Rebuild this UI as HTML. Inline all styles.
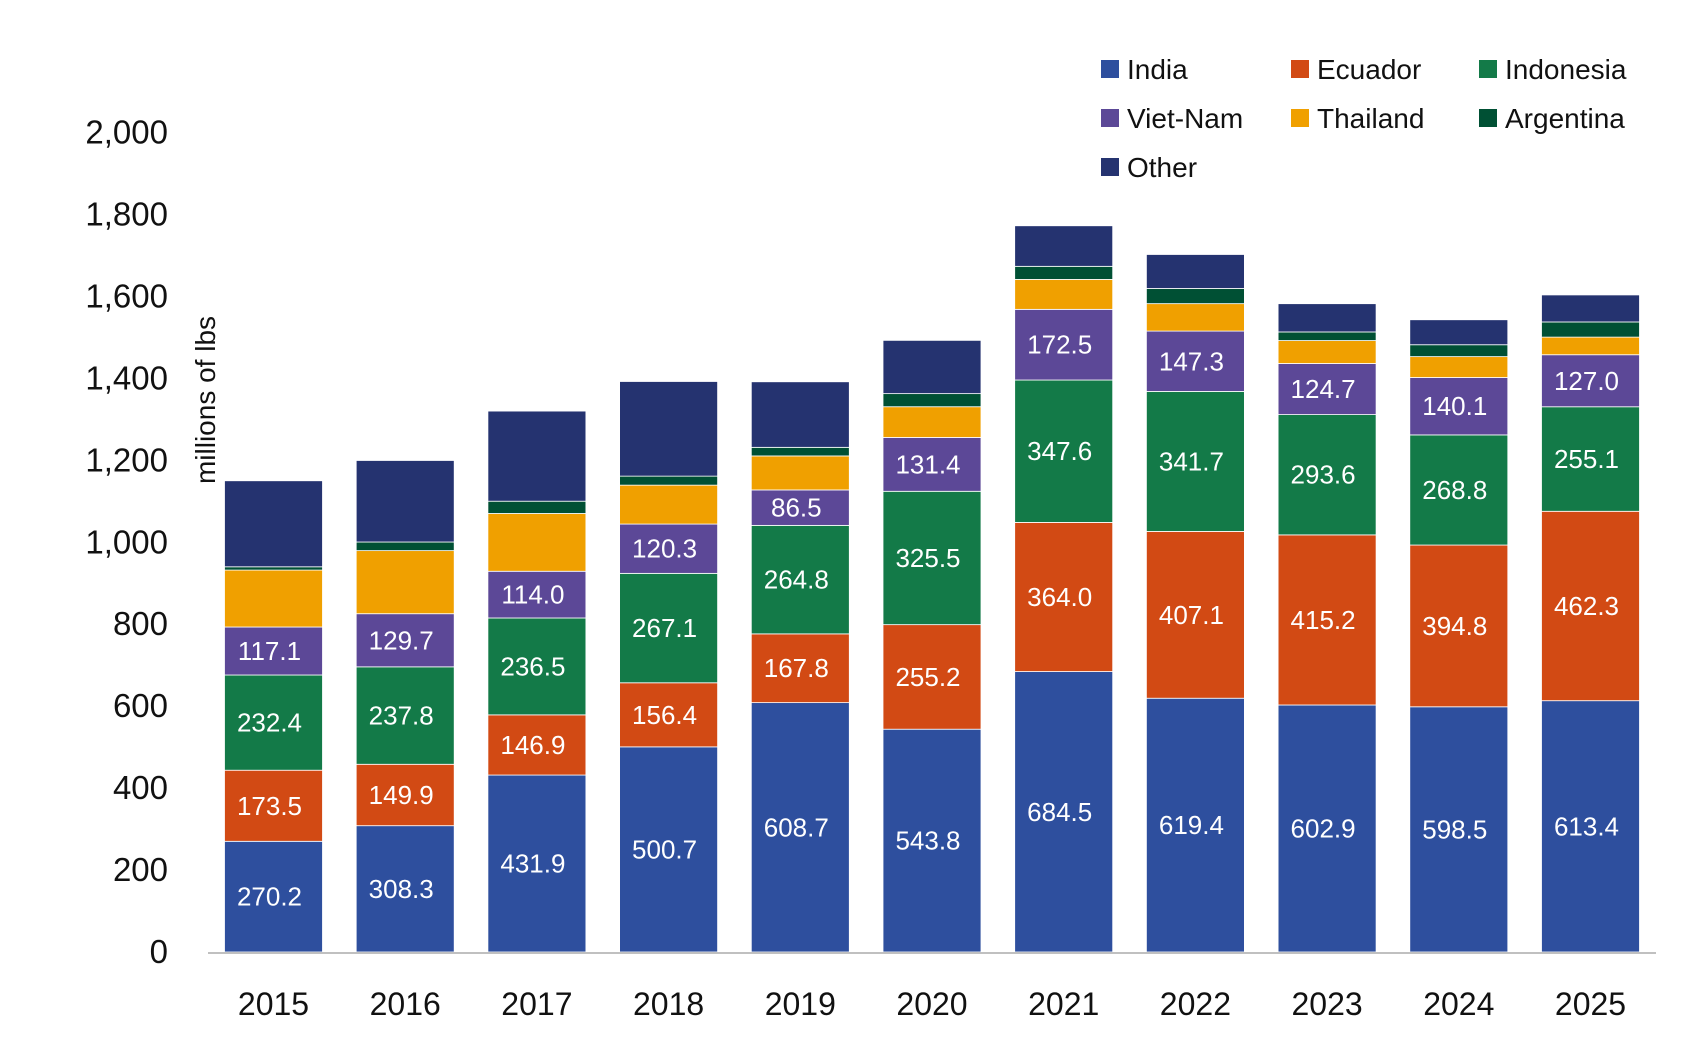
<!DOCTYPE html>
<html><head><meta charset="utf-8"><style>
html,body{margin:0;padding:0;background:#fff;}
svg{display:block;font-family:"Liberation Sans","DejaVu Sans",sans-serif;}
</style></head><body>
<svg id="chart" width="1704" height="1061" viewBox="0 0 1704 1061" xmlns="http://www.w3.org/2000/svg">
<g id="yaxis"></g>
<g id="bars"></g>
<g id="xaxis"></g>
<text transform="translate(215,400) rotate(-90)" text-anchor="middle" font-size="28" fill="#111">millions of lbs</text>
<g id="legend"></g>
</svg>
<script>
const years = ["2015","2016","2017","2018","2019","2020","2021","2022","2023","2024","2025"];
const seriesNames = ["India","Ecuador","Indonesia","Viet-Nam","Thailand","Argentina","Other"];
const india = [270.2,308.3,431.9,500.7,608.7,543.8,684.5,619.4,602.9,598.5,613.4];
const ecuador = [173.5,149.9,146.9,156.4,167.8,255.2,364.0,407.1,415.2,394.8,462.3];
const indonesia = [232.4,237.8,236.5,267.1,264.8,325.5,347.6,341.7,293.6,268.8,255.1];
const vietnam = [117.1,129.7,114.0,120.3,86.5,131.4,172.5,147.3,124.7,140.1,127.0];
const thailand = [139,154,141,95,83,75,73,67,56,51,43];
const argentina = [8,21,30,22,21,32,32,37,21,29,37];
const other = [210,199,220,231,160,130,99,83,69,61,66];
const yTicks = [0,200,400,600,800,1000,1200,1400,1600,1800,2000];
const yTickLabels = ["0","200","400","600","800","1,000","1,200","1,400","1,600","1,800","2,000"];
const labelled = [true,true,true,true,false,false,false];

const colors = ["#2e4f9e","#d24a14","#137a48","#5c4897","#f0a000","#005034","#253370"];
const series = [india,ecuador,indonesia,vietnam,thailand,argentina,other];
const NS = "http://www.w3.org/2000/svg";
const y0 = 952, pxPer = 0.4097;
function yScale(v){ return y0 - v*pxPer; }
const firstCenter = 273.5, pitch = 131.7, barW = 98;
function xScale(i){ return firstCenter + i*pitch; }
function mk(tag, attrs, parent){ const e=document.createElementNS(NS,tag); for(const k in attrs) e.setAttribute(k,attrs[k]); parent.appendChild(e); return e; }

const yaxis = document.getElementById('yaxis');
yTicks.forEach((t,i)=>{
  const tx = mk('text',{x:168,y:yScale(t)+11,'text-anchor':'end','font-size':33,fill:'#111'},yaxis);
  
  
  tx.textContent = yTickLabels[i];
});

const bars = document.getElementById('bars');
years.forEach((yr,i)=>{
  let cum = 0;
  const g = mk('g',{},bars);
  
  
  series.forEach((s,k)=>{
    const v = s[i];
    const top = yScale(cum+v), bot = yScale(cum);
    const r = mk('rect',{x:xScale(i)-barW/2,y:top,width:barW,height:bot-top,fill:colors[k],stroke:'#ffffff','stroke-width':0.8},g);
    
    
    if(labelled[k]){
      const t = mk('text',{x:xScale(i)-4,y:(top+bot)/2+9,'text-anchor':'middle','font-size':26,fill:'#ffffff'},g);
      
      
      t.textContent = v.toFixed(1);
    }
    cum += v;
  });
});

const xaxis = document.getElementById('xaxis');
const ln = mk('line',{x1:208,y1:y0+1,x2:1656,y2:y0+1,stroke:'#c0c0c0','stroke-width':2},xaxis);


years.forEach((yr,i)=>{
  const t = mk('text',{x:xScale(i),y:1015,'text-anchor':'middle','font-size':32,fill:'#111'},xaxis);
  
  
  t.textContent = yr;
});

const legend = document.getElementById('legend');
const legX = [1101,1291,1479], legY = [69,118,167];
seriesNames.forEach((n,k)=>{
  const cx = legX[k%3], cy = legY[Math.floor(k/3)];
  const g = mk('g',{},legend);
  
  
  mk('rect',{x:cx,y:cy-9,width:18,height:18,fill:colors[k]},g);
  const t = mk('text',{x:cx+26,y:cy+10,'font-size':28,fill:'#111'},g);
  t.textContent = n;
});
</script>
</body></html>
